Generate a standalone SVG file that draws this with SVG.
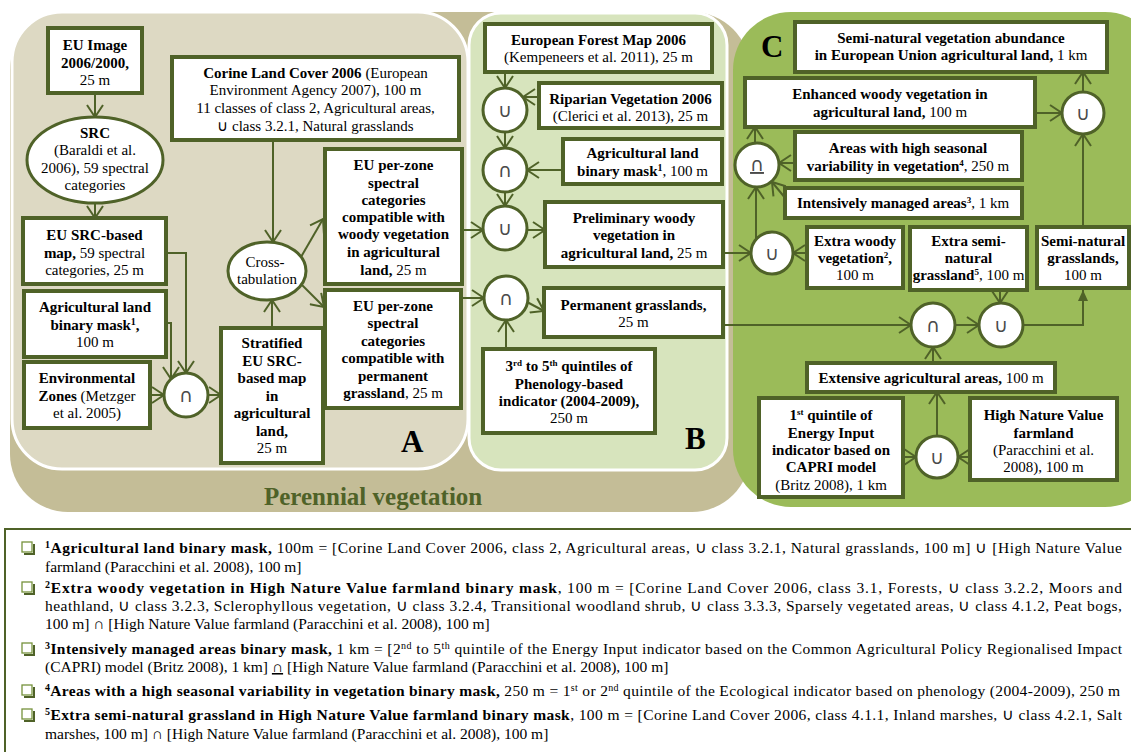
<svg xmlns="http://www.w3.org/2000/svg" width="1131" height="752" viewBox="0 0 1131 752">
<style>
.bx{fill:#fff;stroke:#4f6228;stroke-width:4}
.ci{fill:#fff;stroke:#4f6228;stroke-width:3}
.t{font-family:"Liberation Serif","Times New Roman",serif;font-size:15px;fill:#000;text-anchor:middle}
.b{font-weight:bold}
.sym{font-family:"DejaVu Sans",sans-serif;font-size:19px;fill:#4a4a4a;text-anchor:middle}
.cn path{fill:none;stroke:#4f6228;stroke-width:2;marker-end:url(#ah)}
.cn path.f{marker-end:url(#fa)}
.lg{font-family:"Liberation Serif","Times New Roman",serif;font-size:15.5px;fill:#000}
.lbl{font-family:"Liberation Serif","Times New Roman",serif;font-size:31px;font-weight:bold;fill:#000}
.bul{fill:#fff;stroke:#76923c;stroke-width:1.3}
.buls{fill:none;stroke:#4f6228;stroke-width:2}
</style>
<defs>
<marker id="ah" markerUnits="userSpaceOnUse" markerWidth="14" markerHeight="18" viewBox="0 0 14 18" refX="13" refY="9" orient="auto">
<path d="M1,1 L13,9 L1,17" fill="none" stroke="#4f6228" stroke-width="2"/>
</marker>
<marker id="fa" markerUnits="userSpaceOnUse" markerWidth="12" markerHeight="12" viewBox="0 0 12 12" refX="11" refY="6" orient="auto">
<path d="M0,1 L11,6 L0,11 Z" fill="#4f6228"/>
</marker>
</defs>
<rect width="1131" height="752" fill="#fff"/>
<g id="panels">
<rect x="10" y="12" width="740" height="500" rx="58" fill="#c4bd97"/>
<rect x="12" y="12" width="456" height="457" rx="50" fill="#ddd9c3" stroke="#fff" stroke-width="3"/>
<rect x="469" y="13" width="258" height="457" rx="32" fill="#d7e4bd" stroke="#fff" stroke-width="3"/>
<rect x="733" y="12" width="430" height="495" rx="58" fill="#9bbb59"/>
<text class="lbl" x="401" y="452">A</text>
<text class="lbl" x="685" y="449">B</text>
<text class="lbl" x="761" y="57">C</text>
<text x="264" y="505" font-family="Liberation Serif, serif" font-size="25" font-weight="bold" fill="#4f6228">Perennial vegetation</text>
</g>
<g class="cn" id="connectors">
<path d="M95,93 L95,117"/>
<path d="M95,203 L95,218"/>
<path d="M166,253 L186,253 L186,373"/>
<path d="M166,323 L171,323 L171,379"/>
<path d="M150,395 L164,395"/>
<path d="M208,395 L221,395"/>
<path d="M272,328 L272,300"/>
<path d="M273,140 L273,242"/>
<path d="M301,257 L323,219"/>
<path d="M300,283 L324,307"/>
<path d="M462,230 L483,230"/>
<path d="M461,298 L484,298"/>
<path d="M505,72 L505,88"/>
<path d="M539,97 L523,97"/>
<path d="M505,132 L505,148"/>
<path d="M563,170 L527,170"/>
<path d="M505,192 L505,206"/>
<path d="M527,230 L545,230"/>
<path d="M723,253 L751,253"/>
<path d="M527,302 L544,311"/>
<path d="M506,349 L506,320"/>
<path d="M723,325 L911,325"/>
<path d="M756,239 L756,187"/>
<path d="M755,143 L755,127"/>
<path d="M795,163 L779,163"/>
<path d="M786,199 L772,182"/>
<path d="M807,253 L793,253"/>
<path d="M1035,113 L1062,113"/>
<path d="M1083,92 L1083,72"/>
<path d="M1083,227 L1083,134"/>
<path d="M955,325 L979,325"/>
<path d="M1000,290 L1000,303"/>
<path class="f" d="M1023,325 L1083,325 L1083,290"/>
<path d="M933,363 L933,347"/>
<path d="M937,436 L937,392"/>
<path d="M903,457 L916,457"/>
<path d="M970,457 L958,457"/>
</g>
<g id="n-euimage"><rect class="bx" x="48" y="28" width="94" height="65"/>
<text class="t b" x="95" y="50">EU Image</text><text class="t b" x="95" y="68">2006/2000,</text><text class="t" x="95" y="85">25 m</text></g>
<g id="n-src"><ellipse class="ci" cx="95" cy="160" rx="68" ry="43"/>
<text class="t b" x="95" y="138">SRC</text><text class="t" x="95" y="155">(Baraldi et al.</text><text class="t" x="95" y="173">2006), 59 spectral</text><text class="t" x="95" y="190">categories</text></g>
<g id="n-srcmap"><rect class="bx" x="23" y="218" width="143" height="66"/>
<text class="t b" x="94.5" y="240">EU SRC-based</text><text class="t" x="94.5" y="258"><tspan class="b">map,</tspan> 59 spectral</text><text class="t" x="94.5" y="275">categories, 25 m</text></g>
<g id="n-agrimaskA"><rect class="bx" x="24" y="291" width="142" height="66"/>
<text class="t b" x="95" y="312">Agricultural land</text><text class="t b" x="95" y="330">binary mask<tspan baseline-shift="super" font-size="10">1</tspan>,</text><text class="t" x="95" y="347">100 m</text></g>
<g id="n-envzones"><rect class="bx" x="24" y="362" width="126" height="66"/>
<text class="t b" x="87" y="383">Environmental</text><text class="t" x="87" y="401"><tspan class="b">Zones</tspan> (Metzger</text><text class="t" x="87" y="418">et al. 2005)</text></g>
<g id="n-capA"><circle class="ci" cx="186" cy="395" r="22"/><text class="sym" x="186" y="402">∩</text></g>
<g id="n-stratified"><rect class="bx" x="221" y="328" width="102" height="135"/>
<text class="t b" x="272" y="348">Stratified</text><text class="t b" x="272" y="366">EU SRC-</text><text class="t b" x="272" y="383">based map</text><text class="t b" x="272" y="401">in</text><text class="t b" x="272" y="418">agricultural</text><text class="t b" x="272" y="436">land,</text><text class="t" x="272" y="453">25 m</text></g>
<g id="n-crosstab"><ellipse class="ci" cx="267" cy="271" rx="39" ry="29"/>
<text class="t" x="265" y="267">Cross-</text><text class="t" x="267" y="284">tabulation</text></g>
<g id="n-corine"><rect class="bx" x="172" y="57" width="287" height="83"/>
<text class="t" x="315.5" y="78"><tspan class="b">Corine Land Cover 2006</tspan>  (European</text><text class="t" x="315.5" y="95">Environment Agency 2007), 100 m</text><text class="t" x="315.5" y="113">11 classes of  class 2, Agricultural areas,</text><text class="t" x="315.5" y="131">∪ class 3.2.1, Natural grasslands</text></g>
<g id="n-woodyzone"><rect class="bx" x="325" y="149" width="137" height="135"/>
<text class="t b" x="393.5" y="170">EU per-zone</text><text class="t b" x="393.5" y="188">spectral</text><text class="t b" x="393.5" y="205">categories</text><text class="t b" x="393.5" y="222">compatible with</text><text class="t b" x="393.5" y="239">woody vegetation</text><text class="t b" x="393.5" y="257">in agricultural</text><text class="t" x="393.5" y="275"><tspan class="b">land,</tspan> 25 m</text></g>
<g id="n-grasszone"><rect class="bx" x="325" y="290" width="136" height="118"/>
<text class="t b" x="393" y="311">EU per-zone</text><text class="t b" x="393" y="328">spectral</text><text class="t b" x="393" y="346">categories</text><text class="t b" x="393" y="363">compatible with</text><text class="t b" x="393" y="381">permanent</text><text class="t" x="393" y="398"><tspan class="b">grassland</tspan>, 25 m</text></g>
<g id="n-forestmap"><rect class="bx" x="485" y="24" width="227" height="48"/>
<text class="t b" x="598.5" y="45">European Forest Map 2006</text><text class="t" x="598.5" y="62">(Kempeneers et al. 2011), 25 m</text></g>
<g id="n-cup1"><circle class="ci" cx="505" cy="110" r="22"/><text class="sym" x="505" y="117">∪</text></g>
<g id="n-riparian"><rect class="bx" x="539" y="83" width="183" height="45"/>
<text class="t b" x="630.5" y="104">Riparian Vegetation 2006</text><text class="t" x="630.5" y="121">(Clerici et al. 2013), 25 m</text></g>
<g id="n-cap2"><circle class="ci" cx="505" cy="170" r="22"/><text class="sym" x="505" y="177">∩</text></g>
<g id="n-agrimaskB"><rect class="bx" x="563" y="139" width="159" height="45"/>
<text class="t b" x="642.5" y="158">Agricultural land</text><text class="t" x="642.5" y="176"><tspan class="b">binary mask<tspan baseline-shift="super" font-size="10">1</tspan></tspan>, 100 m</text></g>
<g id="n-cup3"><circle class="ci" cx="505" cy="228" r="22"/><text class="sym" x="505" y="235">∪</text></g>
<g id="n-prelim"><rect class="bx" x="545" y="202" width="178" height="65"/>
<text class="t b" x="634" y="223">Preliminary woody</text><text class="t b" x="634" y="240">vegetation in</text><text class="t" x="634" y="258"><tspan class="b">agricultural land,</tspan>  25 m</text></g>
<g id="n-cap4"><circle class="ci" cx="506" cy="298" r="22"/><text class="sym" x="506" y="305">∩</text></g>
<g id="n-permgrass"><rect class="bx" x="544" y="288" width="179" height="49"/>
<text class="t b" x="633.5" y="310">Permanent grasslands,</text><text class="t" x="633.5" y="327">25 m</text></g>
<g id="n-quintiles"><rect class="bx" x="483" y="349" width="172" height="84"/>
<text class="t b" x="569" y="371">3<tspan baseline-shift="super" font-size="9">rd</tspan> to 5<tspan baseline-shift="super" font-size="9">th</tspan> quintiles of</text><text class="t b" x="569" y="389">Phenology-based</text><text class="t b" x="569" y="406">indicator (2004-2009),</text><text class="t" x="569" y="423">250 m</text></g>
<g id="n-abundance"><rect class="bx" x="795" y="22" width="312" height="50"/>
<text class="t b" x="951" y="43">Semi-natural vegetation abundance</text><text class="t" x="951" y="60"><tspan class="b">in European Union agricultural land,</tspan> 1 km</text></g>
<g id="n-enhanced"><rect class="bx" x="745" y="78" width="290" height="49"/>
<text class="t b" x="890" y="99">Enhanced  woody vegetation in</text><text class="t" x="890" y="117"><tspan class="b">agricultural land,</tspan>  100 m</text></g>
<g id="n-cupTop"><circle class="ci" cx="1083" cy="113" r="21"/><text class="sym" x="1083" y="120">∪</text></g>
<g id="n-seasonal"><rect class="bx" x="795" y="132" width="227" height="48"/>
<text class="t b" x="908" y="153">Areas with high seasonal</text><text class="t" x="908" y="171"><tspan class="b">variability in vegetation<tspan baseline-shift="super" font-size="9">4</tspan></tspan>, 250 m</text></g>
<g id="n-capU"><circle class="ci" cx="757" cy="165" r="22"/><text class="sym" x="757" y="171" text-decoration="underline">∩</text></g>
<g id="n-intensive"><rect class="bx" x="785" y="188" width="237" height="30"/>
<text class="t" x="903" y="208"><tspan class="b">Intensively managed areas<tspan baseline-shift="super" font-size="9">3</tspan></tspan>, 1 km</text></g>
<g id="n-cupC"><circle class="ci" cx="772" cy="253" r="21"/><text class="sym" x="772" y="260">∪</text></g>
<g id="n-extrawoody"><rect class="bx" x="807" y="227" width="96" height="61"/>
<text class="t b" x="855" y="246">Extra woody</text><text class="t" x="855" y="263"><tspan class="b">vegetation<tspan baseline-shift="super" font-size="9">2</tspan>,</tspan></text><text class="t" x="855" y="280">100 m</text></g>
<g id="n-extrasemi"><rect class="bx" x="910" y="227" width="117" height="63"/>
<text class="t b" x="968.5" y="246">Extra semi-</text><text class="t b" x="968.5" y="263">natural</text><text class="t" x="968.5" y="280"><tspan class="b">grassland<tspan baseline-shift="super" font-size="9">5</tspan></tspan>, 100 m</text></g>
<g id="n-semigrass"><rect class="bx" x="1037" y="227" width="92" height="61"/>
<text class="t b" x="1083" y="246">Semi-natural</text><text class="t b" x="1083" y="263">grasslands,</text><text class="t" x="1083" y="280">100 m</text></g>
<g id="n-capC2"><circle class="ci" cx="933" cy="325" r="22"/><text class="sym" x="933" y="332">∩</text></g>
<g id="n-cupC2"><circle class="ci" cx="1001" cy="325" r="22"/><text class="sym" x="1001" y="332">∪</text></g>
<g id="n-extensive"><rect class="bx" x="807" y="363" width="248" height="29"/>
<text class="t" x="931" y="383"><tspan class="b">Extensive agricultural areas,</tspan> 100 m</text></g>
<g id="n-energy"><rect class="bx" x="759" y="398" width="144" height="99"/>
<text class="t b" x="831" y="420">1<tspan baseline-shift="super" font-size="9">st</tspan> quintile of</text><text class="t b" x="831" y="438">Energy Input</text><text class="t b" x="831" y="455">indicator based on</text><text class="t b" x="831" y="472">CAPRI model</text><text class="t" x="831" y="490">(Britz 2008), 1 km</text></g>
<g id="n-hnv"><rect class="bx" x="970" y="398" width="147" height="82"/>
<text class="t b" x="1043.5" y="420">High Nature Value</text><text class="t b" x="1043.5" y="438">farmland</text><text class="t" x="1043.5" y="455">(Paracchini  et al.</text><text class="t" x="1043.5" y="472">2008), 100 m</text></g>
<g id="n-cupBottom"><circle class="ci" cx="937" cy="457" r="21"/><text class="sym" x="937" y="464">∪</text></g>
<g id="legend">
<rect x="5" y="529" width="1140" height="240" fill="#fff" stroke="#4f6228" stroke-width="2"/>
<g id="bullets">
<path class="buls" d="M34,544 V554 H24"/><rect class="bul" x="22" y="542" width="10" height="10"/>
<path class="buls" d="M34,584 V594 H24"/><rect class="bul" x="22" y="582" width="10" height="10"/>
<path class="buls" d="M34,645 V655 H24"/><rect class="bul" x="22" y="643" width="10" height="10"/>
<path class="buls" d="M34,687 V697 H24"/><rect class="bul" x="22" y="685" width="10" height="10"/>
<path class="buls" d="M34,711 V721 H24"/><rect class="bul" x="22" y="709" width="10" height="10"/>
</g>
<text class="lg" x="45" y="553" textLength="1077" lengthAdjust="spacing"><tspan class="b"><tspan baseline-shift="super" font-size="10">1</tspan>Agricultural land binary mask,</tspan> 100m  = [Corine Land Cover 2006, class 2, Agricultural areas, ∪ class 3.2.1, Natural grasslands, 100 m] ∪ [High Nature Value</text>
<text class="lg" x="45" y="572">farmland (Paracchini  et al. 2008), 100 m]</text>
<text class="lg" x="45" y="593" textLength="1077" lengthAdjust="spacing"><tspan class="b"><tspan baseline-shift="super" font-size="10">2</tspan>Extra woody vegetation in High Nature Value farmland binary mask</tspan>, 100 m = [Corine Land Cover 2006, class 3.1, Forests, ∪ class 3.2.2, Moors and</text>
<text class="lg" x="45" y="611" textLength="1077" lengthAdjust="spacing">heathland, ∪ class 3.2.3, Sclerophyllous vegetation, ∪  class 3.2.4, Transitional woodland shrub, ∪ class 3.3.3, Sparsely vegetated areas, ∪ class 4.1.2, Peat bogs,</text>
<text class="lg" x="45" y="629">100 m] ∩ [High Nature Value farmland (Paracchini  et al. 2008), 100 m]</text>
<text class="lg" x="45" y="654" textLength="1077" lengthAdjust="spacing"><tspan class="b"><tspan baseline-shift="super" font-size="10">3</tspan>Intensively managed areas binary mask,</tspan> 1 km = [2<tspan baseline-shift="super" font-size="10">nd</tspan> to 5<tspan baseline-shift="super" font-size="10">th</tspan> quintile of the Energy Input indicator based on the Common Agricultural Policy Regionalised Impact</text>
<text class="lg" x="45" y="672">(CAPRI) model (Britz 2008),  1 km] <tspan text-decoration="underline">∩</tspan> [High Nature Value farmland (Paracchini  et al. 2008), 100 m]</text>
<text class="lg" x="45" y="696" textLength="1075" lengthAdjust="spacing"><tspan class="b"><tspan baseline-shift="super" font-size="10">4</tspan>Areas with a high seasonal variability in vegetation binary mask,</tspan> 250 m = 1<tspan baseline-shift="super" font-size="10">st</tspan> or 2<tspan baseline-shift="super" font-size="10">nd</tspan> quintile  of the Ecological indicator based on phenology (2004-2009),  250 m</text>
<text class="lg" x="45" y="720" textLength="1077" lengthAdjust="spacing"><tspan class="b"><tspan baseline-shift="super" font-size="10">5</tspan>Extra semi-natural grassland in High Nature Value farmland binary mask</tspan>, 100 m = [Corine Land Cover 2006, class 4.1.1, Inland marshes, ∪ class 4.2.1, Salt</text>
<text class="lg" x="45" y="739">marshes, 100 m] ∩ [High Nature Value  farmland (Paracchini  et al. 2008), 100 m]</text>
</g>
</svg>
